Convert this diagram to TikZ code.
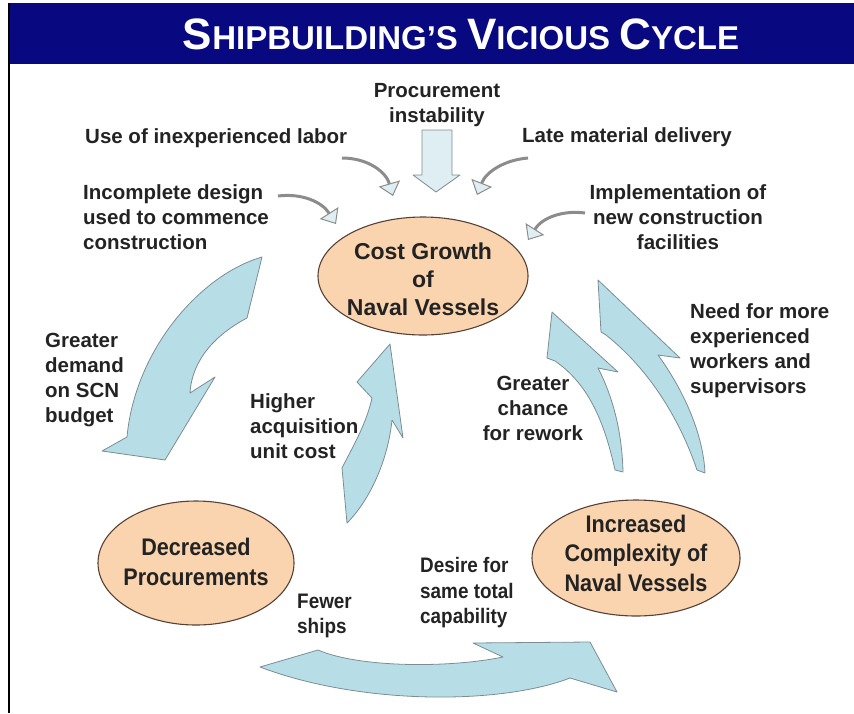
\documentclass[tikz,border=0pt]{standalone}
\usepackage{fontspec}
\setmainfont{Liberation Sans}
\newfontfamily\narrowfont{Liberation Sans}[FakeStretch=0.9]
\usetikzlibrary{shapes.geometric, arrows.meta}

\definecolor{navybar}{RGB}{8,8,128}
\definecolor{peach}{RGB}{250,212,175}
\definecolor{rimbrown}{RGB}{85,65,55}
\definecolor{flowblue}{RGB}{183,222,230}
\definecolor{flowrim}{RGB}{125,140,148}
\definecolor{paleblue}{RGB}{222,238,242}
\definecolor{feedgray}{RGB}{140,140,140}
\definecolor{inkgray}{RGB}{35,35,35}

% big first letter, smaller capitals after it
\newcommand{\tcap}[2]{{\fontsize{44}{44}\selectfont #1}{\fontsize{33}{33}\selectfont #2}}

\tikzset{
  lbl/.style = {font=\fontsize{20.5}{25}\selectfont\bfseries, text=inkgray, inner sep=0pt},
  nlbl/.style = {font=\narrowfont\bfseries\fontsize{21}{25.5}\selectfont, text=inkgray, inner sep=0pt},
  bubble/.style = {ellipse, draw=rimbrown, fill=peach, line width=1.1pt, inner sep=0pt},
  bubtext/.style = {font=\fontsize{23}{28}\selectfont\bfseries, text=inkgray, align=center, inner sep=0pt},
  nbubtext/.style = {font=\narrowfont\bfseries\fontsize{24}{29.5}\selectfont, text=inkgray, align=center, inner sep=0pt},
  flow/.style = {fill=flowblue, draw=flowrim, line width=0.8pt, line join=round},
  flowpale/.style = {fill=paleblue, draw=flowrim, line width=0.8pt, line join=round},
  feed/.style = {draw=feedgray, line width=3pt,
    -{Triangle[length=13pt, width=22pt, fill=paleblue, line width=1pt]}},
}

\begin{document}
\begin{tikzpicture}[x=1pt, y=-1pt]
  \useasboundingbox (0,0) rectangle (854,713);

  % title bar and page edge
  \fill[navybar] (8,3) rectangle (854,64);
  \draw[line width=1.5pt] (9,3) -- (9,713);
  \node[text=white, font=\bfseries\fontsize{33}{33}\selectfont] (title) at (461,34)
    {\tcap{S}{HIPBUILDING’S} \tcap{V}{ICIOUS} \tcap{C}{YCLE}};

  % the three states
  \node[bubble, minimum width=210pt, minimum height=118pt] (cost) at (423,276) {};
  \node[bubtext] (costtext) at (423,279) {Cost Growth\\of\\Naval Vessels};
  \node[bubble, minimum width=196pt, minimum height=124pt] (fewerbuys) at (196,563) {};
  \node[nbubtext] (fewerbuystext) at (196,562) {Decreased\\Procurements};
  \node[bubble, minimum width=208pt, minimum height=116pt] (complex) at (636,558) {};
  \node[nbubtext] (complextext) at (636,553) {Increased\\Complexity of\\Naval Vessels};

  % outside causes
  \node[lbl, align=center] (instab) at (437,105) {Procurement\\instability};
  \node[lbl, anchor=west] (labor) at (85,138) {Use of inexperienced labor};
  \node[lbl, anchor=west] (late) at (522,137) {Late material delivery};
  \node[lbl, anchor=west, align=left] (design) at (83,217) {Incomplete design\\used to commence\\construction};
  \node[lbl, align=center] (facil) at (678,217) {Implementation of\\new construction\\facilities};

  % arrow labels
  \node[lbl, anchor=west, align=left] (budget) at (45,380) {Greater\\demand\\on SCN\\budget};
  \node[lbl, anchor=west, align=left] (unitcost) at (250,426) {Higher\\acquisition\\unit cost};
  \node[lbl, align=center] (rework) at (533,408) {Greater\\chance\\for rework};
  \node[lbl, anchor=west, align=left] (workers) at (690,351) {Need for more\\experienced\\workers and\\supervisors};
  \node[nlbl, anchor=west, align=left] (fewer) at (297,616) {Fewer\\ships};
  \node[nlbl, anchor=west, align=left] (desire) at (420,593) {Desire for\\same total\\capability};

  % pale down arrow
  \draw[flowpale] (422,130) -- (452,130) -- (452,175) -- (460,175) -- (436,192)
    -- (413,175) -- (422,175) -- cycle;

  % curved feeds into the cost ellipse
  \coordinate (laborfrom) at (342,158);
  \coordinate (laborto) at (393,196);
  \coordinate (designfrom) at (278,196);
  \coordinate (designto) at (336,224);
  \coordinate (latefrom) at (528,158);
  \coordinate (lateto) at (477,195);
  \coordinate (facilfrom) at (585,213);
  \coordinate (facilto) at (528,240);
  \draw[feed] (laborfrom) .. controls (368,158) and (386,172) .. (laborto);
  \draw[feed] (designfrom) .. controls (302,193) and (322,202) .. (designto);
  \draw[feed] (latefrom) .. controls (504,160) and (486,172) .. (lateto);
  \draw[feed] (facilfrom) .. controls (562,210) and (542,218) .. (facilto);

  % big block arrows of the cycle
  \draw[flow] (262,257) .. controls (200,275) and (135,350) .. (127,437) -- (102,451)
    -- (165,460) -- (215,377) -- (190,393) .. controls (192,360) and (215,335) .. (247,318) -- cycle;
  \draw[flow] (390,344) -- (403,438) -- (392,420) .. controls (388,460) and (370,500) .. (347,523)
    -- (342,468) .. controls (352,448) and (366,425) .. (372,398) -- (357,382) -- cycle;
  \draw[flow] (552,312) -- (618,372) -- (598,368) .. controls (612,395) and (622,430) .. (623,472)
    -- (615,470) .. controls (605,425) and (590,385) .. (555,361) -- (547,358) -- cycle;
  \draw[flow] (598,280) -- (680,358) -- (658,355) .. controls (680,385) and (703,430) .. (705,473)
    -- (697,470) .. controls (680,420) and (650,370) .. (606,335) -- (601,332) -- cycle;
  \draw[flow] (260,667) -- (318,650) .. controls (360,668) and (450,668) .. (503,657) -- (473,643)
    -- (590,642) -- (617,692) -- (570,678) .. controls (500,705) and (360,705) .. (260,667) -- cycle;
\end{tikzpicture}
\end{document}
